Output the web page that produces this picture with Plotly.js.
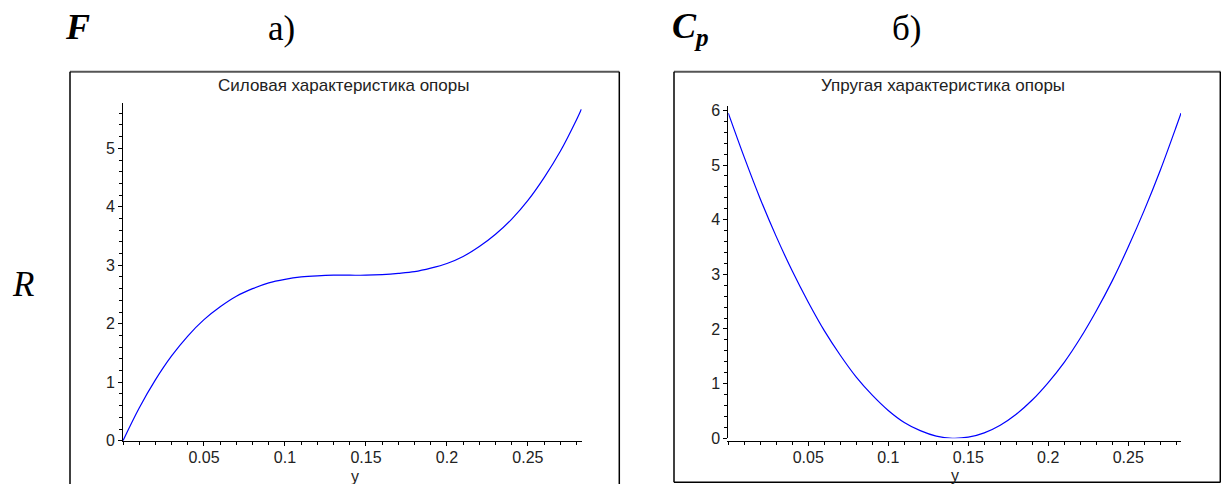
<!DOCTYPE html>
<html>
<head>
<meta charset="utf-8">
<script src="https://cdn.plot.ly/plotly-3.0.1.min.js"></script>
<style>html,body{margin:0;padding:0;background:#fff;}#chart{width:1221px;height:484px;}</style>
</head>
<body>
<div id="chart"></div>
<script>
// displacement y (x axis)
var displacement = [0, 0.01, 0.02, 0.03, 0.04, 0.05, 0.06, 0.07, 0.08, 0.09, 0.10, 0.11, 0.12, 0.13, 0.14,
  0.15, 0.16, 0.17, 0.18, 0.19, 0.20, 0.21, 0.22, 0.23, 0.24, 0.25, 0.26, 0.27, 0.28, 0.283];
// а) force characteristic R (read from picture)
var forceValues = [0, 0.56, 1.04, 1.45, 1.79, 2.07, 2.29, 2.47, 2.60, 2.70, 2.76, 2.80, 2.82, 2.83, 2.83,
  2.83, 2.84, 2.86, 2.89, 2.95, 3.03, 3.15, 3.32, 3.53, 3.79, 4.11, 4.50, 4.95, 5.49, 5.67];
// б) stiffness characteristic C_p (read from picture)
var stiffValues = [5.95, 5.14, 4.38, 3.69, 3.06, 2.49, 1.97, 1.52, 1.12, 0.79, 0.51, 0.29, 0.14, 0.04, 0.00,
  0.02, 0.10, 0.24, 0.44, 0.70, 1.02, 1.39, 1.83, 2.33, 2.88, 3.50, 4.17, 4.90, 5.70, 5.95];
var xTickVals = [0.05, 0.1, 0.15, 0.2, 0.25];
var xTickText = ["0.05", "0.1", "0.15", "0.2", "0.25"];
var yTickValsA = [0, 1, 2, 3, 4, 5];
var yTickValsB = [0, 1, 2, 3, 4, 5, 6];
var titleA = "Силовая характеристика опоры";
var titleB = "Упругая характеристика опоры";
var axisName = "y";

var W = 1221, H = 484;
function px(x) { return x / W; }
function py(y) { return 1 - y / H; }

var sans = "Liberation Sans, Arial, sans-serif";
var tickFont = {family: sans, size: 16, color: "#222"};
var serif = "Liberation Serif, Times New Roman, serif";

function xAxis(dom, rng) {
  return {domain: dom, range: rng, showline: true, linecolor: "#000", linewidth: 1,
    zeroline: false, showgrid: false, ticks: "outside", ticklen: 4, tickcolor: "#000", tickwidth: 1,
    tickmode: "array", tickvals: xTickVals, ticktext: xTickText, tickfont: tickFont,
    ticklabelstandoff: -2,
    minor: {tickmode: "linear", tick0: 0, dtick: 0.01, ticks: "outside", ticklen: 3, tickcolor: "#000", showgrid: false},
    fixedrange: true};
}
function yAxis(dom, rng, vals, anchor) {
  return {domain: dom, range: rng, anchor: anchor, showline: true, linecolor: "#000", linewidth: 1,
    zeroline: false, showgrid: false, ticks: "outside", ticklen: 4, tickcolor: "#000", tickwidth: 1,
    tickmode: "array", tickvals: vals, ticktext: vals.map(String), tickfont: tickFont,
    minor: {tickmode: "linear", tick0: 0, dtick: 0.2, ticks: "outside", ticklen: 3, tickcolor: "#000", showgrid: false},
    fixedrange: true};
}

var traces = [
  {x: displacement, y: forceValues, xaxis: "x", yaxis: "y", type: "scatter", mode: "lines",
   line: {color: "#0000ff", width: 1.2, shape: "spline"}, hoverinfo: "skip", cliponaxis: false},
  {x: displacement, y: stiffValues, xaxis: "x2", yaxis: "y2", type: "scatter", mode: "lines",
   line: {color: "#0000ff", width: 1.2, shape: "spline"}, hoverinfo: "skip", cliponaxis: false}
];

function ann(x, y, text, size, family, color) {
  return {xref: "paper", yref: "paper", x: px(x), y: py(y), text: text, showarrow: false,
    xanchor: "center", yanchor: "middle", font: {family: family, size: size, color: color || "#000"}};
}

var layout = {
  width: W, height: H, autosize: false,
  margin: {l: 0, r: 0, t: 0, b: 0, pad: 0},
  paper_bgcolor: "#fff", plot_bgcolor: "rgba(0,0,0,0)",
  showlegend: false,
  xaxis: xAxis([px(123), px(581.7)], [0, 0.2832]),
  yaxis: yAxis([py(440.7), py(103.3)], [0, 5.77], yTickValsA, "x"),
  xaxis2: xAxis([px(728.3), px(1181)], [0, 0.283]),
  yaxis2: yAxis([py(438.3), py(106)], [0, 6.08], yTickValsB, "x2"),
  annotations: [
    ann(77, 27, "<b><i>F</i></b>", 36, serif),
    ann(281, 28, "а)", 35, serif),
    ann(690, 29, "<b><i>C<sub>p</sub></i></b>", 36, serif),
    ann(906, 28, "б)", 35, serif),
    ann(23, 284, "<i>R</i>", 35, serif),
    ann(343, 85, titleA, 17, sans, "#222"),
    ann(943, 85, titleB, 17, sans, "#222"),
    ann(355, 476, axisName, 16, sans, "#222"),
    ann(955, 475, axisName, 16, sans, "#222")
  ],
  shapes: [
    // left frame
    {type: "line", xref: "paper", yref: "paper", x0: px(70), x1: px(619.3), y0: py(71.7), y1: py(71.7), line: {color: "#555", width: 2}},
    {type: "line", xref: "paper", yref: "paper", x0: px(70), x1: px(70), y0: py(71.7), y1: py(492), line: {color: "#000", width: 1.5}},
    {type: "line", xref: "paper", yref: "paper", x0: px(619.3), x1: px(619.3), y0: py(71.7), y1: py(492), line: {color: "#000", width: 1.5}},
    // right frame
    {type: "line", xref: "paper", yref: "paper", x0: px(674), x1: px(1220.5), y0: py(71.7), y1: py(71.7), line: {color: "#555", width: 2}},
    {type: "line", xref: "paper", yref: "paper", x0: px(674), x1: px(674), y0: py(71.7), y1: py(482.3), line: {color: "#000", width: 1.5}},
    {type: "line", xref: "paper", yref: "paper", x0: px(1220.3), x1: px(1220.3), y0: py(71.7), y1: py(482.3), line: {color: "#000", width: 1.5}},
    {type: "line", xref: "paper", yref: "paper", x0: px(674), x1: px(1220.5), y0: py(482.3), y1: py(482.3), line: {color: "#000", width: 1.5}}
  ]
};

Plotly.newPlot("chart", traces, layout, {staticPlot: true, displayModeBar: false});
</script>
</body>
</html>
